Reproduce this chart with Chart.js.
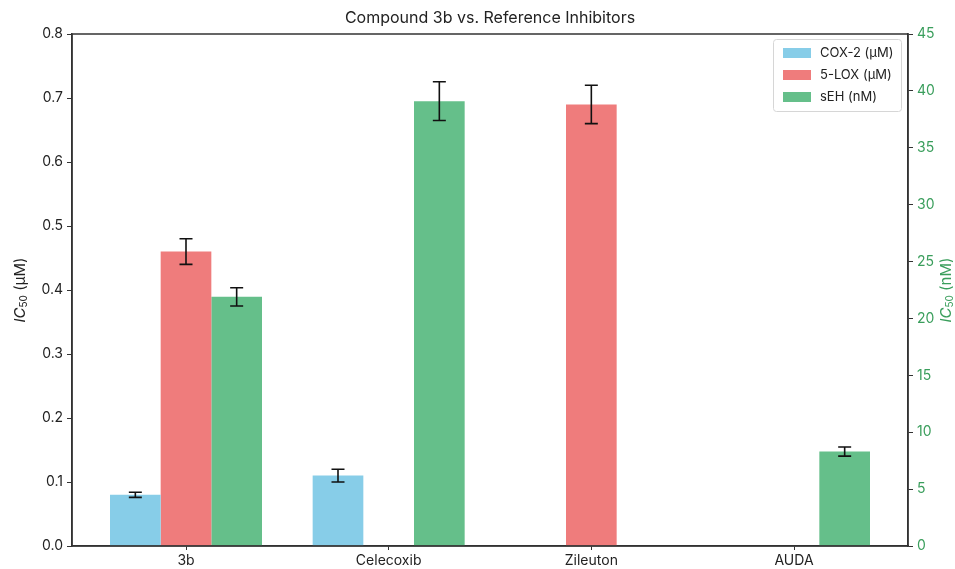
<!DOCTYPE html>
<html>
<head>
<meta charset="utf-8">
<script src="https://cdn.jsdelivr.net/npm/chart.js@4"></script>
<style>
  body { margin: 0; background: #fff; }
  #wrap { width: 955px; height: 569px; position: relative; }
</style>
</head>
<body>
<div id="wrap"><canvas id="chart"></canvas></div>
<script>
const categories = ['3b', 'Celecoxib', 'Zileuton', 'AUDA'];
const cox2 = [0.08, 0.11, null, null];
const cox2Err = [0.004, 0.01, null, null];
const lox5 = [0.46, null, 0.69, null];
const lox5Err = [0.02, null, 0.03, null];
const seh = [21.9, 39.1, null, 8.3];
const sehErr = [0.8, 1.7, null, 0.4];
const leftTicks = [0, 0.1, 0.2, 0.3, 0.4, 0.5, 0.6, 0.7, 0.8];
const rightTicks = [0, 5, 10, 15, 20, 25, 30, 35, 40, 45];

const FONT = 'Inter, "Open Sans", sans-serif';
const AXIS = '#333';
const GREEN_TXT = '#3a9e5c';

function points(values) {
  return values.map(function (v, i) { return { x: i, y: v }; });
}

// error bars drawn from the dataset's own y scale
const errorBars = {
  id: 'errorBars',
  afterDatasetsDraw(chart) {
    const ctx = chart.ctx;
    ctx.save();
    ctx.strokeStyle = '#111';
    ctx.lineWidth = 1.6;
    chart.data.datasets.forEach(function (ds, di) {
      const meta = chart.getDatasetMeta(di);
      const scale = chart.scales[ds.yAxisID];
      meta.data.forEach(function (bar, i) {
        const v = ds.data[i].y;
        const e = ds.errors[i];
        if (v == null || e == null) return;
        const top = scale.getPixelForValue(v + e);
        const bot = scale.getPixelForValue(v - e);
        const cap = 6.5;
        ctx.beginPath();
        ctx.moveTo(bar.x, top); ctx.lineTo(bar.x, bot);
        ctx.moveTo(bar.x - cap, top); ctx.lineTo(bar.x + cap, top);
        ctx.moveTo(bar.x - cap, bot); ctx.lineTo(bar.x + cap, bot);
        ctx.stroke();
      });
    });
    ctx.restore();
  },
};

function drawAxisTitle(ctx, x, y, unit, color) {
  ctx.save();
  ctx.translate(x, y);
  ctx.rotate(-Math.PI / 2);
  ctx.fillStyle = color;
  ctx.textBaseline = 'middle';
  const big = 'italic 15px ' + FONT;
  const sub = '10px ' + FONT;
  const rest = '15px ' + FONT;
  ctx.font = big; const w1 = ctx.measureText('IC').width;
  ctx.font = sub; const w2 = ctx.measureText('50').width;
  ctx.font = rest; const w3 = ctx.measureText(' (' + unit + ')').width;
  let cx = -(w1 + w2 + w3) / 2;
  ctx.textAlign = 'left';
  ctx.font = big; ctx.fillText('IC', cx, 0); cx += w1;
  ctx.font = sub; ctx.fillText('50', cx, 4); cx += w2;
  ctx.font = rest; ctx.fillText(' (' + unit + ')', cx, 0);
  ctx.restore();
}

const decorations = {
  id: 'decorations',
  afterDraw(chart) {
    const ctx = chart.ctx;
    const a = chart.chartArea;
    ctx.save();
    // frame
    ctx.strokeStyle = AXIS;
    ctx.lineWidth = 1.5;
    ctx.strokeRect(a.left, a.top, a.right - a.left, a.bottom - a.top);
    // title
    ctx.fillStyle = '#222';
    ctx.font = '16px ' + FONT;
    ctx.textAlign = 'center';
    ctx.textBaseline = 'middle';
    ctx.fillText('Compound 3b vs. Reference Inhibitors', (a.left + a.right) / 2, 18);
    ctx.restore();

    drawAxisTitle(ctx, 20, (a.top + a.bottom) / 2, 'μM', '#222');
    drawAxisTitle(ctx, 946, (a.top + a.bottom) / 2, 'nM', GREEN_TXT);

    // legend box
    const lx = a.right - 135, ly = a.top + 5, lw = 128, lh = 72;
    ctx.save();
    ctx.fillStyle = 'rgba(255,255,255,0.85)';
    ctx.strokeStyle = '#d6d6d6';
    ctx.lineWidth = 1;
    ctx.beginPath();
    ctx.roundRect(lx + 0.5, ly + 0.5, lw, lh, 3);
    ctx.fill(); ctx.stroke();
    ctx.font = '13px ' + FONT;
    ctx.textBaseline = 'middle';
    ctx.textAlign = 'left';
    chart.data.datasets.forEach(function (ds, i) {
      const yy = ly + 14 + i * 22;
      ctx.fillStyle = ds.backgroundColor;
      ctx.fillRect(lx + 10, yy - 5, 28, 10);
      ctx.fillStyle = '#222';
      ctx.fillText(ds.label, lx + 47, yy);
    });
    ctx.restore();
  },
};

const ctx = document.getElementById('chart');
new Chart(ctx, {
  type: 'bar',
  data: {
    datasets: [
      { label: 'COX-2 (μM)', data: points(cox2), errors: cox2Err, backgroundColor: '#87CDE8', yAxisID: 'y' },
      { label: '5-LOX (μM)', data: points(lox5), errors: lox5Err, backgroundColor: '#EF7C7C', yAxisID: 'y' },
      { label: 'sEH (nM)', data: points(seh), errors: sehErr, backgroundColor: '#65BF8A', yAxisID: 'y1' },
    ],
  },
  options: {
    responsive: true,
    maintainAspectRatio: false,
    animation: false,
    layout: { padding: { top: 34, left: 0, right: 0, bottom: 0 } },
    datasets: { bar: { categoryPercentage: 0.75, barPercentage: 1.0, borderWidth: 0 } },
    plugins: {
      legend: { display: false },
      tooltip: { enabled: false },
    },
    scales: {
      x: {
        type: 'linear',
        min: -0.5625,
        max: 3.5625,
        offset: false,
        afterBuildTicks: function (axis) {
          axis.ticks = categories.map(function (c, i) { return { value: i }; });
        },
        afterFit: function (axis) { axis.height = 23; },
        ticks: {
          color: '#222',
          font: { family: FONT, size: 14 },
          padding: 2,
          callback: function (v) { return categories[v]; },
        },
        grid: { offset: false, drawOnChartArea: false, drawTicks: true, tickLength: 4, color: AXIS },
        border: { color: AXIS, width: 1.5 },
      },
      y: {
        position: 'left',
        min: 0,
        max: 0.8,
        afterBuildTicks: function (axis) {
          axis.ticks = leftTicks.map(function (v) { return { value: v }; });
        },
        afterFit: function (axis) { axis.width = 72; },
        ticks: {
          color: '#222',
          font: { family: FONT, size: 14 },
          padding: 4,
          callback: function (v) { return v.toFixed(1); },
        },
        grid: { drawOnChartArea: false, drawTicks: true, tickLength: 5, color: AXIS },
        border: { color: AXIS, width: 1.5 },
      },
      y1: {
        position: 'right',
        min: 0,
        max: 45,
        afterBuildTicks: function (axis) {
          axis.ticks = rightTicks.map(function (v) { return { value: v }; });
        },
        afterFit: function (axis) { axis.width = 47; },
        ticks: {
          color: GREEN_TXT,
          font: { family: FONT, size: 14 },
          padding: 4,
        },
        grid: { drawOnChartArea: false, drawTicks: true, tickLength: 5, color: AXIS },
        border: { color: AXIS, width: 1.5 },
      },
    },
  },
  plugins: [errorBars, decorations],
});
</script>
</body>
</html>
